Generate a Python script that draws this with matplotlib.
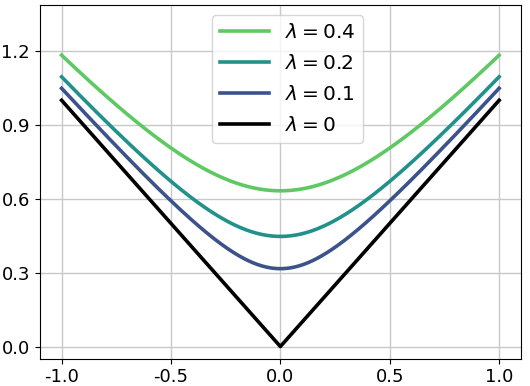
import numpy as np
import matplotlib
matplotlib.use("Agg")
import matplotlib.pyplot as plt

plt.rcParams["axes.unicode_minus"] = False

lambdas = [0.4, 0.2, 0.1, 0]
labels = [r"$\lambda = 0.4$", r"$\lambda = 0.2$", r"$\lambda = 0.1$", r"$\lambda = 0$"]
colors = ["#5ec962", "#21918c", "#3b528b", "#000000"]
xticks = [-1.0, -0.5, 0.0, 0.5, 1.0]
yticks = [0.0, 0.3, 0.6, 0.9, 1.2]

x = np.linspace(-1, 1, 401)

fig = plt.figure(figsize=(5.3, 3.86), dpi=100)
ax = fig.add_axes([0.075, 0.071, 0.908, 0.916])
for lam, lab, c in zip(lambdas, labels, colors):
    ax.plot(x, np.sqrt(x**2 + lam), color=c, lw=2.6, label=lab)
ax.set_xlim(-1.1, 1.1)
ax.set_ylim(-0.049, 1.387)
ax.set_xticks(xticks)
ax.set_yticks(yticks)
ax.tick_params(labelsize=13)
ax.grid(True, color="#c8c8c8", lw=1)
ax.legend(loc="upper center", bbox_to_anchor=(0.515, 1.0), fontsize=14.5,
          handlelength=2.4, labelspacing=0.6)
fig.savefig("out.png", dpi=100)
